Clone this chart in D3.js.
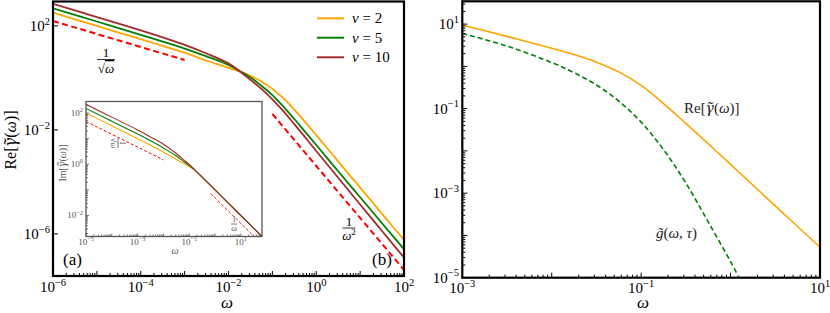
<!DOCTYPE html>
<html><head><meta charset="utf-8">
<script src="https://cdn.jsdelivr.net/npm/d3@7"></script>
<style>
html,body{margin:0;padding:0;background:#fff;}
svg{display:block;}
</style></head>
<body>
<svg id="c" width="830" height="313"></svg>
<script>
// ---------- DATA ----------
// Panel (a): Re[gamma~(omega)] for nu = 2, 5, 10
const omegaMain = [1e-6,1e-5,1e-4,3.16e-4,1e-3,3.16e-3,1e-2,0.0182,0.0316,0.0562,0.1,0.178,0.316,0.562,1,3.16,10,31.6,100];
const reNu2  = [324,100,30.9,17.0,9.33,4.57,2.45,1.74,1.20,0.724,0.380,0.166,0.0603,0.0200,6.31e-3,6.17e-4,6.03e-5,5.89e-6,5.89e-7];
const reNu5  = [479,148,45.7,25.1,13.5,6.76,3.16,1.82,1.05,0.501,0.219,0.0794,0.0263,8.32e-3,2.63e-3,2.57e-4,2.57e-5,2.57e-6,2.57e-7];
const reNu10 = [708,219,67.6,36.3,18.6,8.71,3.63,1.78,0.851,0.380,0.151,0.0525,0.0166,5.13e-3,1.55e-3,1.45e-4,1.35e-5,1.29e-6,1.23e-7];
const asymSqrtW = [1e-6,1e-3];   const asymSqrtV = [155,4.9];
const asymSqW   = [0.1,100];     const asymSqV   = [0.0412,4.12e-8];
// Inset: Im[gamma~(omega)]
const omegaInset = [1e-5,1e-4,1e-3,3.16e-3,1e-2,0.0316,0.0631,0.1,0.158,0.316,1,10,66];
const imNu2  = [100,31.6,10,5.5,3.02,1.58,1.05,0.794,0.589,0.316,0.1,0.01,1.51e-3];
const imNu5  = [151,47.9,15.1,8.32,4.37,2.09,1.26,0.912,0.617,0.316,0.1,0.01,1.51e-3];
const imNu10 = [219,69.2,21.9,11.7,6.03,2.63,1.45,0.977,0.631,0.316,0.1,0.01,1.51e-3];
const insetSqrtW = [1e-5,1e-2];     const insetSqrtV = [46.8,1.48];
const insetInvW  = [0.676,44.7];    const insetInvV  = [0.0724,1.1e-3];
// Panel (b)
const omegaRe = [1e-3,3.16e-3,1e-2,0.0178,0.0316,0.0562,0.1,0.178,0.316,0.562,1,3.16,10];
const reGamma = [9.55,5.13,2.69,1.91,1.26,0.741,0.355,0.132,0.0447,0.0148,4.79e-3,5.01e-4,5.25e-5];
const omegaG  = [1e-3,3.16e-3,1e-2,0.0178,0.0316,0.0562,0.1,0.178,0.316,0.562,1,1.26];
const gTilde  = [6.03,3.02,1.23,0.708,0.363,0.151,0.0479,0.0107,1.74e-3,2.09e-4,2.4e-5,9.5e-6];
// Labels
const legendLabels = ["2","5","10"];
const mainXTicks = [-6,-4,-2,0,2];
const mainYTicks = [2,-2,-6];
const insetXTicks = [-5,-3,-1,1];
const insetYTicks = [2,0,-2];
const rightXTicks = [-3,-1,1];
const rightYTicks = [1,-1,-3,-5];

// ---------- DRAW ----------
const svg = d3.select("#c");
svg.append("rect").attr("width",830).attr("height",313).attr("fill","#fff");
const COL = {o:"#FFA500", g:"#008000", b:"#A52A2A", r:"#FF0000"};
const MINUS = "\u2212";
const SMOOTH = d3.curveCatmullRom.alpha(0.5);
const GAMMA_FONT = "'Noto Serif'";

function powLabel(sel, e, x, y, anchor, fs, color){
  const t = sel.append("text").attr("x",x).attr("y",y).attr("text-anchor",anchor)
    .attr("font-size",fs).attr("fill",color||"#000");
  t.append("tspan").text("10");
  t.append("tspan").attr("dy",-fs*0.42).attr("font-size",fs*0.7).text(e<0?MINUS+(-e):String(e));
  return t;
}
function logTicks(sel, scale, orient, pos, lo, hi, majLen, minLen, color, sw){
  const c = color||"#000";
  for(let e=lo;e<=hi;e++){
    for(let m=1;m<10;m++){
      const v = m*Math.pow(10,e);
      const d = scale.domain();
      if(v<d[0]*0.999||v>d[1]*1.001) continue;
      const p = scale(v), L = m===1?majLen:minLen;
      if(L<=0) continue;
      if(orient==="bottom") sel.append("line").attr("x1",p).attr("x2",p).attr("y1",pos).attr("y2",pos-L);
      else sel.append("line").attr("y1",p).attr("y2",p).attr("x1",pos).attr("x2",pos+L);
    }
  }
  sel.selectAll("line").attr("stroke",c).attr("stroke-width",sw||1);
}
function clip(id,x0,y0,x1,y1){
  svg.append("clipPath").attr("id",id).append("rect").attr("x",x0).attr("y",y0).attr("width",x1-x0).attr("height",y1-y0);
}
function drawLine(g, sx, sy, xs, ys, color, w, dash, curve){
  const pts = xs.map((x,i)=>[x,ys[i]]);
  const ln = d3.line().x(d=>sx(d[0])).y(d=>sy(d[1])).curve(curve||SMOOTH);
  const p = g.append("path").attr("d",ln(pts)).attr("fill","none").attr("stroke",color).attr("stroke-width",w);
  if(dash) p.attr("stroke-dasharray",dash);
  return p;
}
function fraction(g, x, yNum, yBar, yDen, num, denFn, fs, color, barW){
  g.append("text").attr("x",x).attr("y",yNum).attr("text-anchor","middle").attr("font-size",fs).attr("fill",color).text(num);
  g.append("line").attr("x1",x-barW/2).attr("x2",x+barW/2).attr("y1",yBar).attr("y2",yBar).attr("stroke",color).attr("stroke-width",0.8);
  const t = g.append("text").attr("x",x).attr("y",yDen).attr("text-anchor","middle").attr("font-size",fs).attr("fill",color);
  denFn(t,fs);
}
function gammaLabel(t, pre){
  t.append("tspan").text(pre+"[");
  t.append("tspan").attr("font-style","italic").attr("class","gam").text("\u03B3\u0303");
  t.append("tspan").text("(");
  t.append("tspan").attr("font-style","italic").text("\u03C9");
  t.append("tspan").text(")]");
}

// ===== Panel (a) =====
const A = {x0:53,x1:404,y0:1.5,y1:276};
const xA = d3.scaleLog().domain([1e-6,1e2]).range([A.x0,A.x1]);
const yA = d3.scaleLog().domain([Math.pow(10,-7.62),Math.pow(10,2.94)]).range([A.y1,A.y0]);
clip("clipA",A.x0,A.y0,A.x1,A.y1);
const gA = svg.append("g").attr("clip-path","url(#clipA)");
drawLine(gA,xA,yA,asymSqrtW,asymSqrtV,COL.r,2,"6,3.5",d3.curveLinear);
drawLine(gA,xA,yA,asymSqW,asymSqV,COL.r,2,"6,3.5",d3.curveLinear);
drawLine(gA,xA,yA,omegaMain,reNu2,COL.o,1.8);
drawLine(gA,xA,yA,omegaMain,reNu5,COL.g,1.8);
drawLine(gA,xA,yA,omegaMain,reNu10,COL.b,1.8);

const tA = svg.append("g");
logTicks(tA.append("g"),xA,"bottom",A.y1,-6,2,5,3);
const tAy = tA.append("g");
mainYTicks.forEach(e=>tAy.append("line").attr("x1",A.x0).attr("x2",A.x0+5).attr("y1",yA(Math.pow(10,e))).attr("y2",yA(Math.pow(10,e))).attr("stroke","#000"));
mainXTicks.forEach(e=>powLabel(svg,e,xA(Math.pow(10,e)),292,"middle",15));
mainYTicks.forEach(e=>powLabel(svg,e,50,yA(Math.pow(10,e))+5,"end",15));
svg.append("rect").attr("x",A.x0).attr("y",A.y0).attr("width",A.x1-A.x0).attr("height",A.y1-A.y0)
  .attr("fill","none").attr("stroke","#000").attr("stroke-width",2.2);

gammaLabel(svg.append("text").attr("transform","translate(16,140) rotate(-90)").attr("text-anchor","middle").attr("font-size",16),"Re");
svg.append("text").attr("x",227).attr("y",308).attr("text-anchor","middle").attr("font-size",17).attr("font-style","italic").text("\u03C9");

// legend
const legCols=[COL.o,COL.g,COL.b], legY=[18.3,37.7,57.3];
legendLabels.forEach((l,i)=>{
  svg.append("line").attr("x1",317).attr("x2",344).attr("y1",legY[i]).attr("y2",legY[i]).attr("stroke",legCols[i]).attr("stroke-width",2);
  const t=svg.append("text").attr("x",352).attr("y",legY[i]+5).attr("font-size",15);
  t.append("tspan").attr("font-style","italic").text("\u03BD");
  t.append("tspan").text(" = "+l);
});

// annotations
fraction(svg,106,57,59.5,73,"1",(t,fs)=>{t.append("tspan").text("\u221A");t.append("tspan").attr("font-style","italic").attr("text-decoration","overline").text("\u03C9");},13,"#000",18);
fraction(svg,349,225.5,228,240,"1",(t,fs)=>{t.append("tspan").attr("font-style","italic").text("\u03C9");t.append("tspan").attr("dy",-5).attr("font-size",9).text("2");},13,"#000",13);
svg.append("text").attr("x",63).attr("y",265).attr("font-size",17).text("(a)");
svg.append("text").attr("x",372).attr("y",265).attr("font-size",17).text("(b)");

// ===== Inset =====
const I = {x0:86,x1:262,y0:101.5,y1:236.5};
const xI = d3.scaleLog().domain([1e-5,66]).range([I.x0,I.x1]);
const yI = d3.scaleLog().domain([Math.pow(10,-2.82),Math.pow(10,2.45)]).range([I.y1,I.y0]);
svg.append("rect").attr("x",I.x0).attr("y",I.y0).attr("width",I.x1-I.x0).attr("height",I.y1-I.y0).attr("fill","#fff");
clip("clipI",I.x0,I.y0,I.x1,I.y1);
const gI = svg.append("g").attr("clip-path","url(#clipI)");
drawLine(gI,xI,yI,insetSqrtW,insetSqrtV,COL.r,1,"3,2",d3.curveLinear);
drawLine(gI,xI,yI,insetInvW,insetInvV,COL.r,1,"3,2",d3.curveLinear);
drawLine(gI,xI,yI,omegaInset,imNu2,COL.o,1.1);
drawLine(gI,xI,yI,omegaInset,imNu5,COL.g,1.1);
drawLine(gI,xI,yI,omegaInset,imNu10,COL.b,1.1);
const GR="#555";
logTicks(svg.append("g"),xI,"bottom",I.y1,-5,1,3,2,GR,0.8);
logTicks(svg.append("g"),yI,"left",I.x0,-3,2,3,2,GR,0.8);
svg.append("rect").attr("x",I.x0).attr("y",I.y0).attr("width",I.x1-I.x0).attr("height",I.y1-I.y0)
  .attr("fill","none").attr("stroke",GR).attr("stroke-width",1.3);
insetXTicks.forEach(e=>powLabel(svg,e,xI(Math.pow(10,e)),245,"middle",9,GR));
insetYTicks.forEach(e=>powLabel(svg,e,83,yI(Math.pow(10,e))+3,"end",9,GR));
gammaLabel(svg.append("text").attr("transform","translate(66,163) rotate(-90)").attr("text-anchor","middle").attr("font-size",10).attr("fill",GR),"Im");
svg.append("text").attr("x",175).attr("y",254).attr("text-anchor","middle").attr("font-size",10).attr("font-style","italic").attr("fill",GR).text("\u03C9");
{
  const g=svg.append("g").attr("transform","translate(118,143) rotate(90)");
  fraction(g,0,-2,0,7,"1",(t)=>{t.append("tspan").text("\u221A");t.append("tspan").attr("font-style","italic").text("\u03C9");},8,GR,10);
}
fraction(svg,234,222,224,231,"1",(t)=>{t.append("tspan").attr("font-style","italic").text("\u03C9");},8,GR,6);

// ===== Panel (b) right =====
const B = {x0:462.3,x1:820,y0:1.3,y1:277.7};
const xB = d3.scaleLog().domain([1e-3,10]).range([B.x0,B.x1]);
const yB = d3.scaleLog().domain([1e-5,Math.pow(10,1.54)]).range([B.y1,B.y0]);
clip("clipB",B.x0,B.y0,B.x1,B.y1);
const gB = svg.append("g").attr("clip-path","url(#clipB)");
drawLine(gB,xB,yB,omegaRe,reGamma,COL.o,1.6);
drawLine(gB,xB,yB,omegaG,gTilde,COL.g,1.6,"5,3");
logTicks(svg.append("g"),xB,"bottom",B.y1,-3,1,5,3);
logTicks(svg.append("g"),yB,"left",B.x0,-5,1,5,3);
svg.append("rect").attr("x",B.x0).attr("y",B.y0).attr("width",B.x1-B.x0).attr("height",B.y1-B.y0)
  .attr("fill","none").attr("stroke","#000").attr("stroke-width",2.2);
rightXTicks.forEach(e=>powLabel(svg,e,xB(Math.pow(10,e)),293,"middle",15));
rightYTicks.forEach(e=>powLabel(svg,e,459,yB(Math.pow(10,e))+5,"end",15));
svg.append("text").attr("x",643).attr("y",308).attr("text-anchor","middle").attr("font-size",17).attr("font-style","italic").text("\u03C9");
gammaLabel(svg.append("text").attr("x",684).attr("y",113).attr("font-size",15).attr("fill","#222"),"Re");
{
  const t=svg.append("text").attr("x",656).attr("y",238).attr("font-size",15).attr("fill","#222");
  t.append("tspan").attr("font-style","italic").text("g\u0303");
  t.append("tspan").text("(");
  t.append("tspan").attr("font-style","italic").text("\u03C9");
  t.append("tspan").text(", ");
  t.append("tspan").attr("font-style","italic").text("\u03C4");
  t.append("tspan").text(")");
}
// fonts
svg.selectAll("text").style("font-family","'Liberation Serif'");
svg.selectAll("tspan.gam").style("font-family",GAMMA_FONT);
</script>
</body></html>
